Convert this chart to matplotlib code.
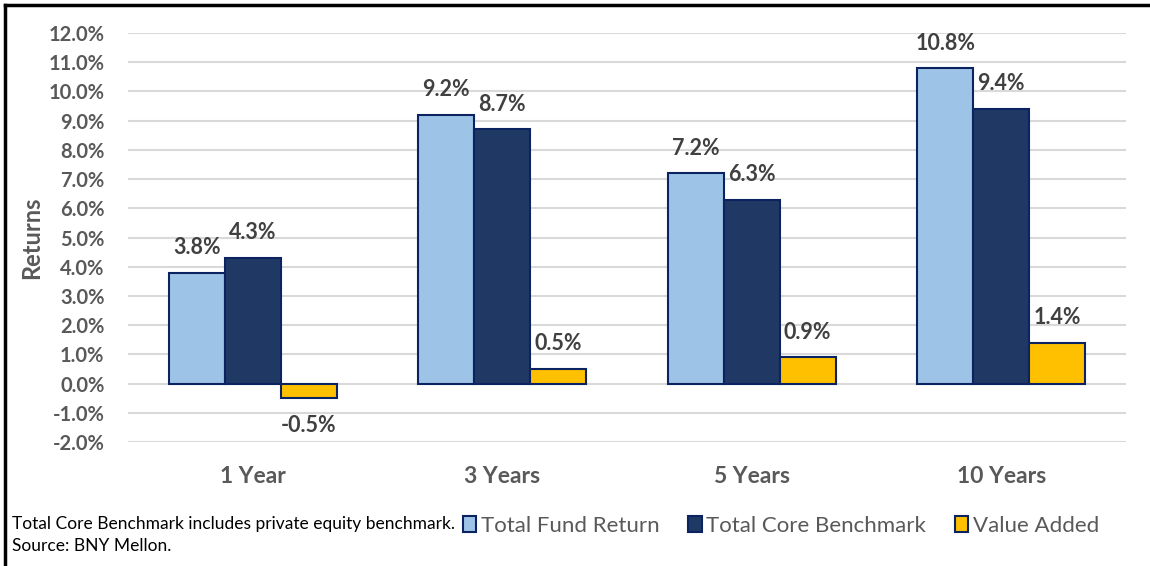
import matplotlib.pyplot as plt
import numpy as np
from matplotlib.lines import Line2D
from matplotlib.patches import Patch

periods = ["1 Year", "3 Years", "5 Years", "10 Years"]
fund_return = [3.8, 9.2, 7.2, 10.8]
core_benchmark = [4.3, 8.7, 6.3, 9.4]
value_added = [-0.5, 0.5, 0.9, 1.4]
series_names = ["Total Fund Return", "Total Core Benchmark", "Value Added"]
colors = ["#9DC3E6", "#203864", "#FFC000"]
edge = "#0B2461"
gray = "#595959"
label_gray = "#404040"

plt.rcParams['font.family'] = ['Lato', 'DejaVu Sans']

fig = plt.figure(figsize=(11.5, 5.66), dpi=100)
ax = fig.add_axes([128 / 1150, 1 - 442 / 566, 998 / 1150, 409 / 566])

x = np.arange(len(periods))
w = 0.224
for i, (vals, c) in enumerate(zip([fund_return, core_benchmark, value_added], colors)):
    pos = x + (i - 1) * w
    ax.bar(pos, vals, width=w, color=c, edgecolor=edge, linewidth=1.5, zorder=3)
    for px, v in zip(pos, vals):
        off = 18 if v >= 0 else -20
        ax.annotate(f"{v:.1f}%", (px, v), xytext=(0, off), textcoords="offset points",
                    ha="center", va="center", fontsize=15.5, fontweight="bold", color=label_gray)

ax.set_xlim(-0.5, 3.5)
ax.set_ylim(-2, 12)
ax.set_yticks(np.arange(-2, 12.1, 1))
ax.set_yticklabels([f"{t:.1f}%" for t in np.arange(-2, 12.1, 1)])
ax.set_xticks(x)
ax.set_xticklabels(periods)
ax.grid(axis="y", color="#D9D9D9", linewidth=1.5, zorder=0)
for s in ax.spines.values():
    s.set_visible(False)
ax.tick_params(axis="y", length=0, pad=17, labelsize=14.5, labelcolor=gray)
ax.tick_params(axis="x", length=0, pad=17, labelsize=16.5, labelcolor=gray)
for lbl in ax.get_xticklabels() + ax.get_yticklabels():
    lbl.set_fontweight("bold")
ax.set_ylabel("Returns", fontsize=17, fontweight="bold", color=gray, labelpad=4)

handles = [Patch(facecolor=c, edgecolor=edge, linewidth=1.5) for c in colors]
fig.legend(handles, series_names, loc="center left", bbox_to_anchor=(443 / 1150, 1 - 526 / 566),
           ncol=3, frameon=False, fontsize=16, labelcolor=gray, handlelength=0.6,
           handleheight=0.7, handletextpad=0.2, columnspacing=1.3)

fig.text(12 / 1150, 1 - 524 / 566, "Total Core Benchmark includes private equity benchmark.",
         fontsize=12.5, va="center", color="black")
fig.text(12 / 1150, 1 - 546 / 566, "Source: BNY Mellon.",
         fontsize=12.5, va="center", color="black")

# frame lines on top and left like the original screenshot
fig.add_artist(Line2D([5 / 1150, 1], [1 - 5 / 566, 1 - 5 / 566], color="black", linewidth=2.5,
                      transform=fig.transFigure))
fig.add_artist(Line2D([5 / 1150, 5 / 1150], [0, 1 - 5 / 566], color="black", linewidth=2.5,
                      transform=fig.transFigure))

fig.savefig("out.png", dpi=100)
